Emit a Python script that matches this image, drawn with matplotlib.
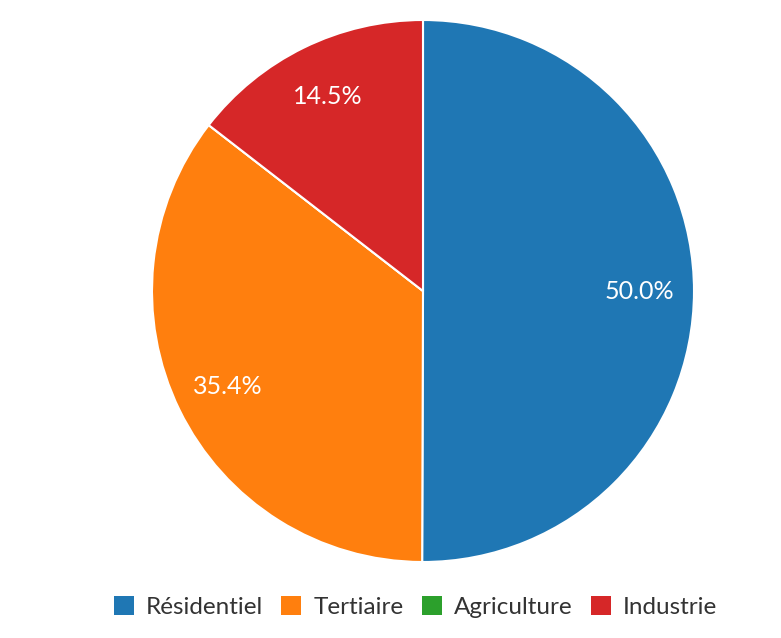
import matplotlib
matplotlib.use("Agg")
import matplotlib.pyplot as plt
from matplotlib.patches import Patch
import math

categories = ["Résidentiel", "Tertiaire", "Agriculture", "Industrie"]
values = [50.0, 35.4, 0.0, 14.5]
colors = ["#1f77b4", "#ff7f0e", "#2ca02c", "#d62728"]

plt.rcParams['font.family'] = ['Lato', 'DejaVu Sans']

W, H = 781, 638
fig = plt.figure(figsize=(W/100, H/100), dpi=100)
cx, cy, r = 423, 291, 271
ax = fig.add_axes([(cx - r)/W, (H - cy - r)/H, 2*r/W, 2*r/H])

wedges, texts = ax.pie(
    values, colors=colors, startangle=90, counterclock=False,
    wedgeprops=dict(edgecolor="white", linewidth=1.5))

# percentage labels from the values themselves
total = sum(values)
angle = 90.0
for v in values:
    span = 360.0 * v / total
    mid = math.radians(angle - span / 2)
    angle -= span
    if v >= 1:
        ax.text(0.8 * math.cos(mid), 0.8 * math.sin(mid), f"{v:.1f}%",
                ha="center", va="center", color="white", fontsize=18)

ax.set_xlim(-1, 1)
ax.set_ylim(-1, 1)
ax.set_aspect("equal")

handles = [Patch(facecolor=c, edgecolor="none") for c in colors]
fig.legend(handles, categories, loc="center", bbox_to_anchor=(415.5/W, 1 - 607/H),
           ncol=4, frameon=False, fontsize=17.5, handlelength=0.82, handleheight=0.8,
           handletextpad=0.5, columnspacing=0.75, labelcolor="#333333")

fig.savefig("out.png", dpi=100, facecolor="white")
